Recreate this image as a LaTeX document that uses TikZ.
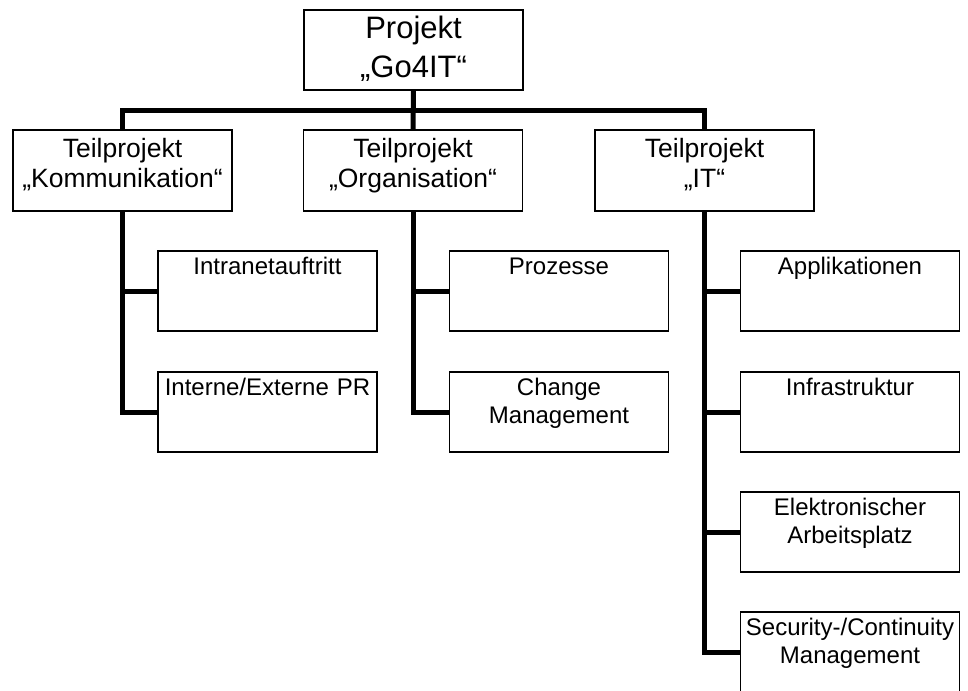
\documentclass[tikz,border=0pt]{standalone}
\usepackage{fontspec}
\setmainfont{Liberation Sans}
\begin{document}
\begin{tikzpicture}[x=1pt,y=-1pt,
  box/.style={draw=black,line width=1.3pt,fill=white,minimum width=219pt,minimum height=80pt,inner sep=0pt,outer sep=0pt},
  conn/.style={draw=black,line width=5pt,line join=miter},
  ttop/.style={anchor=base,inner sep=0pt,text width=219pt,align=center,font=\fontsize{31}{39}\selectfont},
  tmid/.style={anchor=base,inner sep=0pt,text width=219pt,align=center,font=\fontsize{26.5}{29.8}\selectfont},
  tlow/.style={anchor=base,inner sep=0pt,text width=219pt,align=center,font=\fontsize{24}{27.5}\selectfont}]
\useasboundingbox (0,0) rectangle (968,690);
\coordinate (bar) at (0,110.5);
% connectors
\node[box] (top) at (413.5,50) {};
\node[box,minimum height=81pt] (kom) at (122.5,170.5) {};
\node[box,minimum height=81pt] (org) at (413,170.5) {};
\node[box,minimum height=81pt] (it) at (704.5,170.5) {};
\node[box] (k1) at (267.5,291) {};
\node[box] (k2) at (267.5,412) {};
\node[box] (o1) at (559,291) {};
\node[box] (o2) at (559,412) {};
\node[box] (i1) at (850,291) {};
\node[box] (i2) at (850,412) {};
\node[box] (i3) at (850,532) {};
\node[box] (i4) at (850,652) {};
\draw[conn] (top.south) -- (org.north);
\draw[conn] (kom.north) -- (kom.north |- bar) -- (it.north |- bar) -- (it.north);
\draw[conn] (kom.south) |- (k2.west);
\draw[conn] (kom.south |- k1.west) -- (k1.west);
\draw[conn] (org.south) |- (o2.west);
\draw[conn] (org.south |- o1.west) -- (o1.west);
\draw[conn] (it.south) |- (i4.west);
\draw[conn] (it.south |- i1.west) -- (i1.west);
\draw[conn] (it.south |- i2.west) -- (i2.west);
\draw[conn] (it.south |- i3.west) -- (i3.west);
% texts
\node[ttop] (ttop) at ([yshift=-28.3pt]top.north) {Projekt\\„Go4IT“};
\node[tmid] (tkom) at ([yshift=-27.3pt]kom.north) {Teilprojekt\\„Kommunikation“};
\node[tmid] (torg) at ([yshift=-27.3pt]org.north) {Teilprojekt\\„Organisation“};
\node[tmid] (tit) at ([yshift=-27.3pt]it.north) {Teilprojekt\\„IT“};
\node[tlow] (tk1) at ([yshift=-23.5pt]k1.north) {Intranetauftritt};
\node[tlow] (tk2) at ([yshift=-23.5pt]k2.north) {Interne/Externe PR};
\node[tlow] (to1) at ([yshift=-23.5pt]o1.north) {Prozesse};
\node[tlow] (to2) at ([yshift=-23.5pt]o2.north) {Change\\Management};
\node[tlow] (ti1) at ([yshift=-23.5pt]i1.north) {Applikationen};
\node[tlow] (ti2) at ([yshift=-23.5pt]i2.north) {Infrastruktur};
\node[tlow] (ti3) at ([yshift=-23.5pt]i3.north) {Elektronischer\\Arbeitsplatz};
\node[tlow] (ti4) at ([yshift=-23.5pt]i4.north) {Security-/Continuity\\Management};
\end{tikzpicture}
\end{document}
